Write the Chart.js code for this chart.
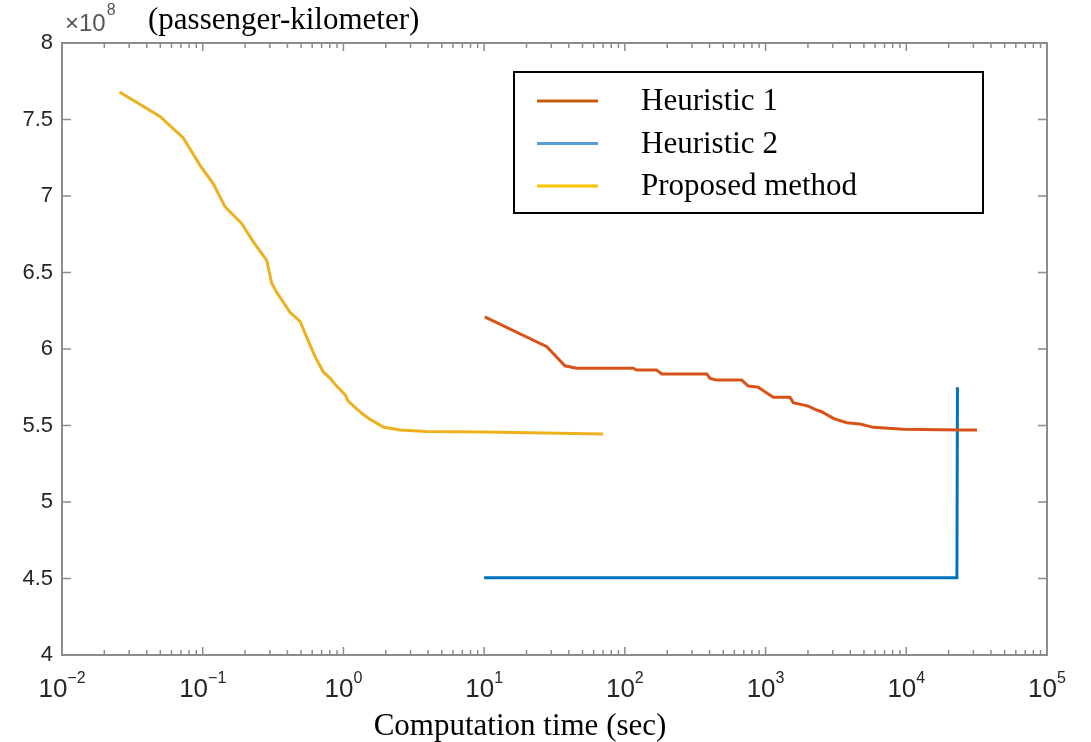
<!DOCTYPE html>
<html>
<head>
<meta charset="utf-8">
<script src="https://cdn.jsdelivr.net/npm/chart.js@4.4.1/dist/chart.umd.min.js"></script>
<style>
  html, body { margin: 0; padding: 0; background: #fff; }
  #wrap { width: 1091px; height: 742px; position: relative; }
</style>
</head>
<body>
<div id="wrap"><canvas id="convChart"></canvas></div>
<script>
// values are in units of 10^8 passenger-kilometer, time in seconds
var seriesNames = ["Heuristic 1", "Heuristic 2", "Proposed method"];

var h1Time = [10.1, 27.9, 37.5, 45.4, 115, 121, 168, 183, 382, 403, 449, 676, 754, 887, 990, 1135, 1490, 1573, 2013, 2307, 2505, 3029, 3767, 4688, 5834, 9530, 24200, 31800];
var h1Value = [6.21, 6.015, 5.89, 5.874, 5.874, 5.863, 5.863, 5.837, 5.837, 5.808, 5.797, 5.797, 5.758, 5.750, 5.721, 5.684, 5.684, 5.649, 5.627, 5.601, 5.590, 5.547, 5.518, 5.510, 5.488, 5.475, 5.471, 5.471];

var h2Time = [10, 22900, 23100];
var h2Value = [4.505, 4.505, 5.75];

var propTime = [0.0256, 0.0497, 0.0728, 0.0957, 0.119, 0.144, 0.189, 0.229, 0.285, 0.309, 0.336, 0.417, 0.492, 0.564, 0.629, 0.720, 0.803, 0.871, 1.03, 1.08, 1.35, 1.55, 1.92, 2.52, 3.9, 10, 70];
var propValue = [7.68, 7.52, 7.38, 7.20, 7.08, 6.93, 6.82, 6.70, 6.58, 6.43, 6.37, 6.24, 6.18, 6.05, 5.95, 5.85, 5.81, 5.77, 5.70, 5.66, 5.58, 5.54, 5.49, 5.47, 5.46, 5.457, 5.444];

var yTicks = [4, 4.5, 5, 5.5, 6, 6.5, 7, 7.5, 8];
var xDecades = [-2, -1, 0, 1, 2, 3, 4, 5];

var lineColors = ["#D95319", "#0072BD", "#EDB120"];
var legendColors = ["#C55A11", "#5B9BD5", "#FFC000"];

function pts(xs, ys) {
  return xs.map(function(x, i) { return {x: x, y: ys[i]}; });
}

var axisGray = "#8c8c8c";
var textGray = "#262626";
var narrow = "'Liberation Sans Narrow', 'Liberation Sans', sans-serif";

var boxPlugin = {
  id: "matlabBox",
  afterDraw: function(chart) {
    var ctx = chart.ctx, a = chart.chartArea;
    var xs = chart.scales.x, ys = chart.scales.y;
    ctx.save();
    // inward ticks
    ctx.strokeStyle = axisGray;
    ctx.lineWidth = 1.5;
    ctx.beginPath();
    xDecades.forEach(function(e) {
      for (var m = 1; m <= 9; m++) {
        var v = m * Math.pow(10, e);
        if (v > 1e5 * 1.0001) break;
        var px = xs.getPixelForValue(v);
        var len = m === 1 ? 8 : 5;
        ctx.moveTo(px, a.bottom); ctx.lineTo(px, a.bottom - len);
        ctx.moveTo(px, a.top); ctx.lineTo(px, a.top + len);
      }
    });
    yTicks.forEach(function(v) {
      var py = ys.getPixelForValue(v);
      ctx.moveTo(a.left, py); ctx.lineTo(a.left + 9, py);
      ctx.moveTo(a.right, py); ctx.lineTo(a.right - 9, py);
    });
    ctx.stroke();
    ctx.lineWidth = 2;
    ctx.strokeRect(a.left, a.top, a.right - a.left, a.bottom - a.top);

    // x tick labels 10^n
    ctx.fillStyle = textGray;
    ctx.textBaseline = "alphabetic";
    ctx.textAlign = "left";
    xDecades.forEach(function(e) {
      var px = xs.getPixelForValue(Math.pow(10, e));
      var ex = e < 0 ? "\u2212" + (-e) : String(e);
      ctx.font = "26px " + narrow;
      var w1 = ctx.measureText("10").width;
      ctx.font = "16px " + narrow;
      var w2 = ctx.measureText(ex).width;
      var x0 = px - (w1 + w2) / 2;
      ctx.font = "26px " + narrow;
      ctx.fillText("10", x0, 697);
      ctx.font = "16px " + narrow;
      ctx.fillText(ex, x0 + w1, 683);
    });

    // exponent and unit
    ctx.fillStyle = "#555";
    ctx.font = "24px " + narrow;
    ctx.fillText("\u00D710", 65, 31);
    var wx = ctx.measureText("\u00D710").width;
    ctx.font = "16px " + narrow;
    ctx.fillText("8", 65 + wx + 1, 15);
    ctx.fillStyle = "#000";
    ctx.font = "31px 'Liberation Serif'";
    ctx.fillText("(passenger-kilometer)", 148, 29);

    // x axis title
    ctx.textAlign = "center";
    ctx.fillText("Computation time (sec)", 520, 735);

    // legend
    var lx = 514, ly = 72, lw = 469, lh = 141;
    ctx.fillStyle = "#fff";
    ctx.fillRect(lx, ly, lw, lh);
    ctx.strokeStyle = "#000";
    ctx.lineWidth = 2;
    ctx.strokeRect(lx, ly, lw, lh);
    ctx.font = "31px 'Liberation Serif'";
    ctx.textAlign = "left";
    ctx.textBaseline = "middle";
    chart.data.datasets.forEach(function(ds, i) {
      var cy = 101 + i * 42.5;
      ctx.strokeStyle = legendColors[i];
      ctx.lineWidth = 3;
      ctx.beginPath();
      ctx.moveTo(537, cy); ctx.lineTo(598, cy);
      ctx.stroke();
      ctx.fillStyle = "#000";
      ctx.fillText(ds.label, 641, cy + 1);
    });
    ctx.restore();
  }
};

new Chart("convChart", {
  type: "scatter",
  data: {
    datasets: [
      {label: seriesNames[0], data: pts(h1Time, h1Value), borderColor: lineColors[0]},
      {label: seriesNames[1], data: pts(h2Time, h2Value), borderColor: lineColors[1]},
      {label: seriesNames[2], data: pts(propTime, propValue), borderColor: lineColors[2]}
    ].map(function(d) {
      d.showLine = true; d.pointRadius = 0; d.borderWidth = 3; d.tension = 0; d.fill = false;
      return d;
    })
  },
  options: {
    responsive: true,
    maintainAspectRatio: false,
    animation: false,
    layout: {padding: {top: 43, right: 44, left: 0, bottom: 0}},
    plugins: {legend: {display: false}, tooltip: {enabled: false}},
    scales: {
      x: {
        type: "logarithmic",
        min: 0.01,
        max: 100000,
        afterFit: function(s) { s.height = 87; },
        grid: {display: false, drawTicks: false},
        border: {display: false},
        ticks: {display: false}
      },
      y: {
        min: 4,
        max: 8,
        afterFit: function(s) { s.width = 62; },
        grid: {display: false, drawTicks: false},
        border: {display: false},
        ticks: {
          stepSize: 0.5,
          padding: 9,
          color: textGray,
          font: {family: "'Liberation Sans'", size: 22},
          callback: function(v) { return String(Math.round(v * 10) / 10); }
        }
      }
    }
  },
  plugins: [boxPlugin]
});
</script>
</body>
</html>
